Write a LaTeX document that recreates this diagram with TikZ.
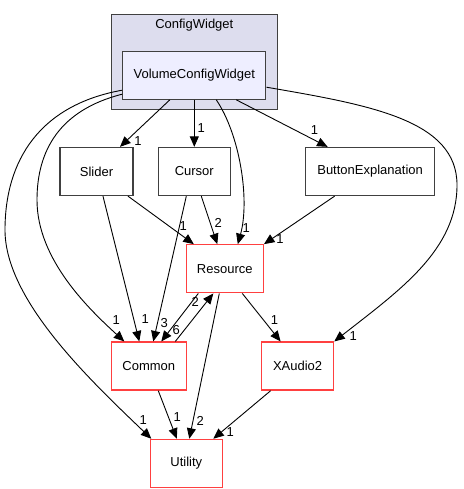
\documentclass[tikz,border=0pt]{standalone}
\usepackage{fontspec}
\setmainfont{Liberation Sans}
\usetikzlibrary{positioning, arrows.meta, backgrounds}
\definecolor{boxgray}{HTML}{404040}
\definecolor{truncred}{HTML}{FF4040}
\definecolor{clusterfill}{HTML}{DDDDEE}
\definecolor{innerfill}{HTML}{EEEEFF}
\tikzset{dir/.style={draw=boxgray,line width=1.3pt,fill=white,minimum width=72pt,minimum height=48pt,inner sep=0pt,align=center}}
\tikzset{trunc/.style={dir,draw=truncred}}
\tikzset{dep/.style={-{Triangle[length=10.5pt,width=9pt]},line width=0.9pt}}
\tikzset{lbl/.style={inner sep=0pt}}
\begin{document}
\begin{tikzpicture}[x=1pt,y=-1pt,font=\fontsize{13}{15}\selectfont]
		\useasboundingbox (0,0) rectangle (463,489);
		% Draw directories
		\node[dir, minimum width=73pt] (slider) at (96.5,171.5) {Slider};
		\node[dir, right = 24pt of slider] (cursor) {Cursor};
		\node[dir, minimum width=129pt, right = 74pt of cursor] (btn) {ButtonExplanation};
		\node[dir, fill=innerfill, minimum width=143pt, above = 47pt of cursor] (vcw) {VolumeConfigWidget};
		\node[trunc, minimum width=77pt, below = 48pt of cursor, xshift=30.5pt] (resource) {Resource};
		\node[trunc, minimum width=75pt, below = 48pt of resource, xshift=-76pt] (common) {Common};
		\node[trunc, right = 74pt of common] (xaudio) {XAudio2};
		\node[trunc, below = 48pt of common, xshift=37.5pt] (utility) {Utility};
		% Draw the cluster behind
		\begin{scope}[on background layer]
		\draw[draw=boxgray, line width=1.3pt, fill=clusterfill] ([shift={(-11pt,36pt)}]vcw.north west) rectangle ([shift={(11pt,-10pt)}]vcw.south east);
		\end{scope}
		\node[lbl] (cfglbl) at ([yshift=25pt]vcw.north) {ConfigWidget};
		% Draw dependencies from VolumeConfigWidget
		\draw[dep] ([xshift=-24.5pt]vcw.south) -- ([xshift=23.5pt]slider.north) node[lbl, xshift=18pt, yshift=6pt] {1};
		\draw[dep] (vcw.south) -- (cursor.north) node[lbl, xshift=7pt, yshift=19pt] {1};
		\draw[dep] ([xshift=42pt]vcw.south) -- ([xshift=-42.5pt]btn.north) node[lbl, xshift=-13pt, yshift=17pt] {1};
		\draw[dep] ([xshift=22pt]vcw.south) .. controls (240,135) and (250,200) .. ([xshift=13pt]resource.north) node[lbl, xshift=8.5pt, yshift=16pt] {1};
		\draw[dep] ([yshift=-19pt]vcw.west) .. controls (60,110) and (37,150) .. (37,200) .. controls (37,260) and (90,310) .. ([xshift=-24.5pt]common.north) node[lbl, xshift=-8pt, yshift=21pt] {1};
		\draw[dep] ([yshift=-15pt]vcw.west) .. controls (40,105) and (5,160) .. (5,230) .. controls (5,300) and (90,380) .. ([xshift=-35pt]utility.north) node[lbl, xshift=-8pt, yshift=19pt] {1};
		\draw[dep] ([yshift=-12pt]vcw.east) .. controls (370,105) and (457,120) .. (457,185) .. controls (457,250) and (400,290) .. (xaudio.north east) node[lbl, xshift=19pt, yshift=5pt] {1};
		% Draw the other dependencies
		\draw[dep] ([xshift=31.5pt]slider.south) -- ([xshift=-31pt]resource.north) node[lbl, xshift=-10.5pt, yshift=18pt] {1};
		\draw[dep] ([xshift=6.5pt]slider.south) -- ([xshift=-9.5pt]common.north) node[lbl, xshift=6pt, yshift=22pt] {1};
		\draw[dep] ([xshift=-8pt]cursor.south) -- ([xshift=4.5pt]common.north) node[lbl, xshift=11pt, yshift=18pt] {3};
		\draw[dep] ([xshift=7pt]cursor.south) -- ([xshift=-7.5pt]resource.north) node[lbl, xshift=1pt, yshift=21pt] {2};
		\draw[dep] ([xshift=-35.5pt]btn.south) -- (resource.north east) node[lbl, xshift=16pt, yshift=5pt] {1};
		\draw[dep] ([xshift=-26.5pt]resource.south) -- ([xshift=12.5pt]common.north) node[lbl, xshift=15pt, yshift=11pt] {6};
		\draw[dep] ([xshift=26.5pt]common.north) -- ([xshift=-11.5pt]resource.south) node[lbl, xshift=-18pt, yshift=-9pt] {2};
		\draw[dep] ([xshift=-5.5pt]resource.south) -- ([xshift=3pt]utility.north) node[lbl, xshift=11pt, yshift=18pt] {2};
		\draw[dep] ([xshift=17.5pt]resource.south) -- ([xshift=-17pt]xaudio.north) node[lbl, xshift=-6pt, yshift=21pt] {1};
		\draw[dep] ([xshift=9.5pt]common.south) -- ([xshift=-9.5pt]utility.north) node[lbl, xshift=0.5pt, yshift=22pt] {1};
		\draw[dep] ([xshift=-27pt]xaudio.south) -- ([xshift=27pt]utility.north) node[lbl, xshift=17pt, yshift=7pt] {1};
	\end{tikzpicture}
\end{document}
